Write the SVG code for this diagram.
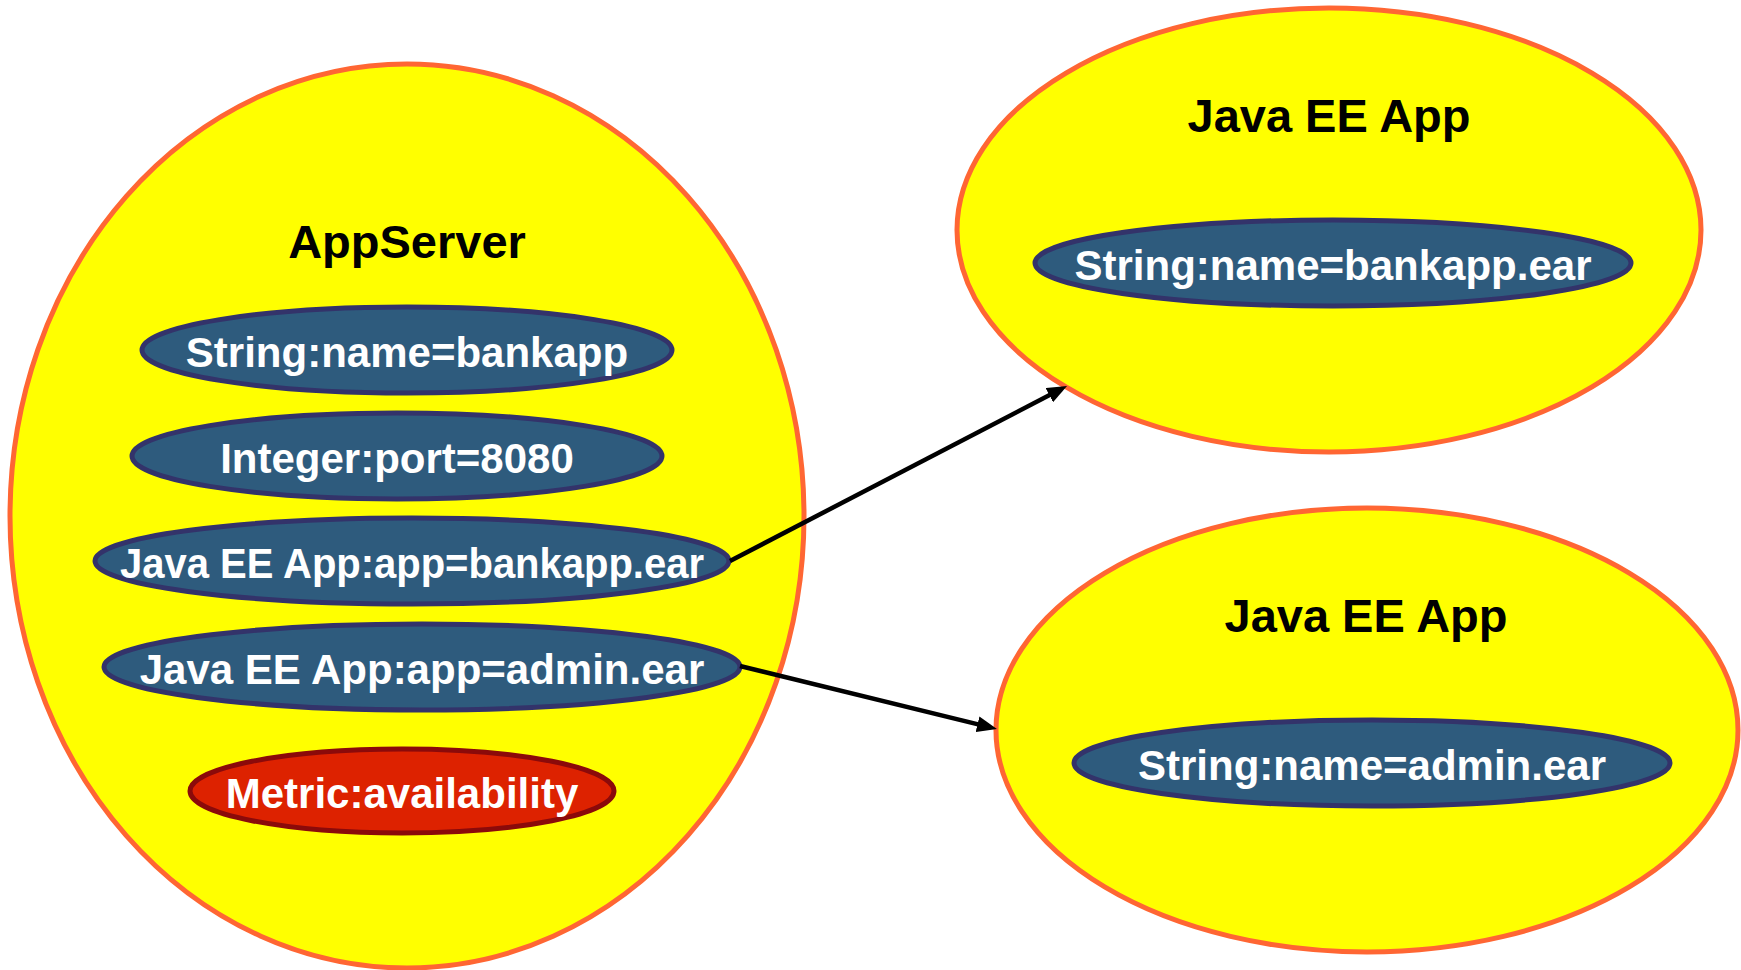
<svg xmlns="http://www.w3.org/2000/svg" width="1741" height="970" viewBox="0 0 1741 970">
  <style>
    .outer { fill: #FFFF00; stroke: #FF6633; stroke-width: 5; }
    .attr { fill: #2E5B7D; stroke: #33336A; stroke-width: 5; }
    .metric { fill: #DD2200; stroke: #8B0A0A; stroke-width: 5; }
    .title { font-family: "Liberation Sans", Arial, sans-serif; font-weight: bold; font-size: 47px; fill: #000000; text-anchor: middle; }
    .label { font-family: "Liberation Sans", Arial, sans-serif; font-weight: bold; font-size: 42px; fill: #FFFFFF; text-anchor: middle; }
    .conn { fill: none; stroke: #000000; stroke-width: 4.5; }
  </style>
  <defs>
    <marker id="arrow" viewBox="0 0 20 16" refX="8" refY="8" markerWidth="20" markerHeight="16" markerUnits="userSpaceOnUse" orient="auto">
      <path d="M0,0 L20,8 L0,16 z" fill="#000000"/>
    </marker>
  </defs>

  <rect width="1741" height="970" fill="#FFFFFF"/>

  <!-- AppServer resource with its attributes -->
  <g id="appserver">
    <ellipse class="outer" cx="407" cy="516" rx="397" ry="452"/>
    <text class="title" x="407" y="258">AppServer</text>
  </g>
  <g id="appserver-name">
    <ellipse class="attr" cx="407" cy="350" rx="265" ry="43"/>
    <text class="label" x="407" y="367">String:name=bankapp</text>
  </g>
  <g id="appserver-port">
    <ellipse class="attr" cx="397" cy="456" rx="265" ry="43"/>
    <text class="label" x="397" y="473">Integer:port=8080</text>
  </g>
  <g id="appserver-app-bankapp">
    <ellipse class="attr" cx="412" cy="561" rx="317" ry="43"/>
    <text class="label" x="412" y="578" textLength="584" lengthAdjust="spacingAndGlyphs">Java EE App:app=bankapp.ear</text>
  </g>
  <g id="appserver-app-admin">
    <ellipse class="attr" cx="422" cy="667" rx="318" ry="43"/>
    <text class="label" x="422" y="684">Java EE App:app=admin.ear</text>
  </g>
  <g id="appserver-availability">
    <ellipse class="metric" cx="402" cy="791" rx="212" ry="42"/>
    <text class="label" x="402" y="808">Metric:availability</text>
  </g>

  <!-- Java EE App: bankapp.ear -->
  <g id="app-bankapp">
    <ellipse class="outer" cx="1329" cy="230" rx="372" ry="222"/>
    <text class="title" x="1329" y="132">Java EE App</text>
    <ellipse class="attr" cx="1333" cy="263" rx="298" ry="43"/>
    <text class="label" x="1333" y="280">String:name=bankapp.ear</text>
  </g>

  <!-- Java EE App: admin.ear -->
  <g id="app-admin">
    <ellipse class="outer" cx="1367" cy="730" rx="371" ry="222"/>
    <text class="title" x="1366" y="632">Java EE App</text>
    <ellipse class="attr" cx="1372" cy="763" rx="298" ry="43"/>
    <text class="label" x="1372" y="780">String:name=admin.ear</text>
  </g>

  <!-- references from the server's app attributes to the app resources -->
  <g id="connectors">
    <path class="conn" d="M730,561 L1056.4,391.5" marker-end="url(#arrow)"/>
    <path class="conn" d="M740,666 L985.3,726.1" marker-end="url(#arrow)"/>
  </g>
</svg>
